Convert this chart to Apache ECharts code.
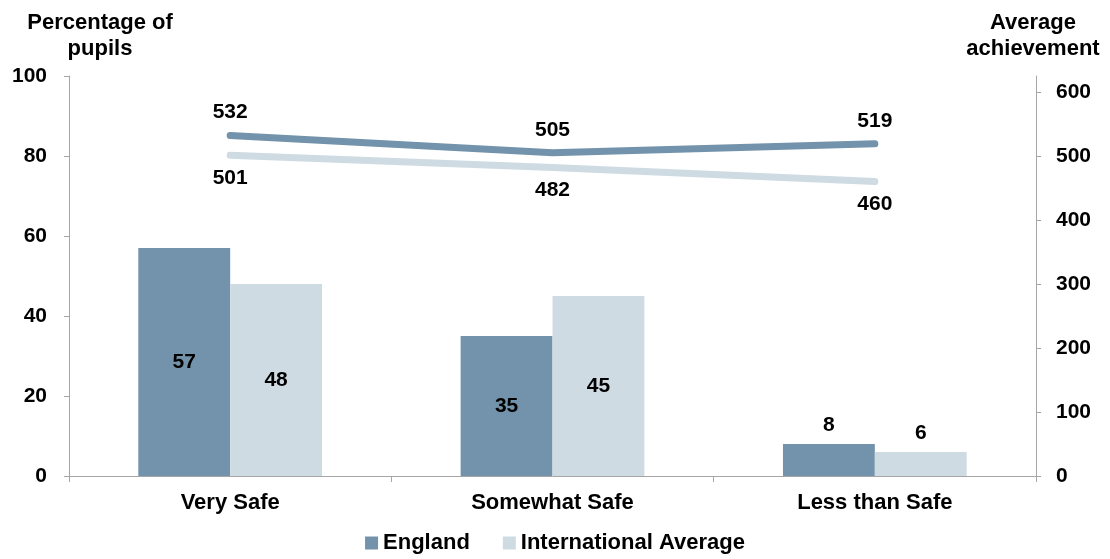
<!DOCTYPE html>
<html>
<head>
<meta charset="utf-8">
<script src="https://cdn.jsdelivr.net/npm/echarts@6/dist/echarts.min.js"></script>
<style>
html, body { margin: 0; padding: 0; background: #fff; }
#main { width: 1110px; height: 559px; }
</style>
</head>
<body>
<div id="main"></div>
<script>
var chartDom = document.getElementById('main');
var myChart = echarts.init(chartDom);
var option;

var categories = ['Very Safe', 'Somewhat Safe', 'Less than Safe'];
var englandPct = [57, 35, 8];
var intlPct = [48, 45, 6];
var englandScore = [532, 505, 519];
var intlScore = [501, 482, 460];
var leftTicks = [0, 20, 40, 60, 80, 100];
var rightTicks = [0, 100, 200, 300, 400, 500, 600];

var darkBlue = '#7293ab';
var lightBlue = '#cfdbe3';
var font = 'Liberation Sans, Arial, sans-serif';

// small bars get their label on top, the others inside
function barData(vals) {
    return vals.map(function (v) {
        return {
            value: v,
            label: { position: v < 15 ? 'top' : 'inside', distance: 8 }
        };
    });
}

option = {
    animation: false,
    textStyle: { fontFamily: font },
    title: [{
        text: 'Percentage of\npupils',
        left: 95,
        top: 5,
        textAlign: 'center',
        textStyle: { fontFamily: font, fontSize: 22, fontWeight: 'bold', lineHeight: 26, color: '#000' }
    }, {
        text: 'Average\nachievement',
        left: 1028,
        top: 5,
        textAlign: 'center',
        textStyle: { fontFamily: font, fontSize: 22, fontWeight: 'bold', lineHeight: 26, color: '#000' }
    }],
    legend: {
        bottom: 0,
        left: 'center',
        itemWidth: 13,
        itemHeight: 13,
        itemGap: 33,
        icon: 'rect',
        data: ['England', 'International Average'],
        textStyle: { fontFamily: font, fontSize: 22, fontWeight: 'bold', color: '#000' }
    },
    grid: { left: 69, right: 74, top: 76, bottom: 83 },
    xAxis: {
        type: 'category',
        data: categories,
        axisLine: { lineStyle: { color: '#a6a6a6', width: 1 } },
        axisTick: { show: true, length: 6, lineStyle: { color: '#a6a6a6' } },
        axisLabel: { margin: 16, fontFamily: font, fontSize: 22, fontWeight: 'bold', color: '#000' }
    },
    yAxis: [{
        type: 'value',
        min: 0,
        max: 100,
        interval: 20,
        splitLine: { show: false },
        axisLine: { show: true, lineStyle: { color: '#a6a6a6' } },
        axisTick: { show: true, length: 5, customValues: leftTicks, lineStyle: { color: '#a6a6a6' } },
        axisLabel: { margin: 22, customValues: leftTicks, fontFamily: font, fontSize: 21, fontWeight: 'bold', color: '#000' }
    }, {
        type: 'value',
        min: 0,
        max: 625,
        splitLine: { show: false },
        axisLine: { show: true, lineStyle: { color: '#a6a6a6' } },
        axisTick: { show: true, length: 5, customValues: rightTicks, lineStyle: { color: '#a6a6a6' } },
        axisLabel: { margin: 20, customValues: rightTicks, fontFamily: font, fontSize: 21, fontWeight: 'bold', color: '#000' }
    }],
    series: [{
        name: 'England',
        type: 'bar',
        data: barData(englandPct),
        barGap: '0%',
        barCategoryGap: '43%',
        itemStyle: { color: darkBlue },
        label: { show: true, fontFamily: font, fontSize: 21, fontWeight: 'bold', color: '#000' }
    }, {
        name: 'International Average',
        type: 'bar',
        data: barData(intlPct),
        itemStyle: { color: lightBlue },
        label: { show: true, fontFamily: font, fontSize: 21, fontWeight: 'bold', color: '#000' }
    }, {
        name: 'England',
        type: 'line',
        yAxisIndex: 1,
        data: englandScore,
        symbol: 'circle',
        symbolSize: 1,
        showSymbol: true,
        lineStyle: { color: darkBlue, width: 7, cap: 'round', join: 'round' },
        itemStyle: { color: darkBlue },
        label: { show: true, position: 'top', distance: 12, fontFamily: font, fontSize: 21, fontWeight: 'bold', color: '#000' }
    }, {
        name: 'International Average',
        type: 'line',
        yAxisIndex: 1,
        data: intlScore,
        symbol: 'circle',
        symbolSize: 1,
        showSymbol: true,
        lineStyle: { color: lightBlue, width: 7, cap: 'round', join: 'round' },
        itemStyle: { color: lightBlue },
        label: { show: true, position: 'bottom', distance: 12, fontFamily: font, fontSize: 21, fontWeight: 'bold', color: '#000' }
    }]
};

option && myChart.setOption(option);
</script>
</body>
</html>
